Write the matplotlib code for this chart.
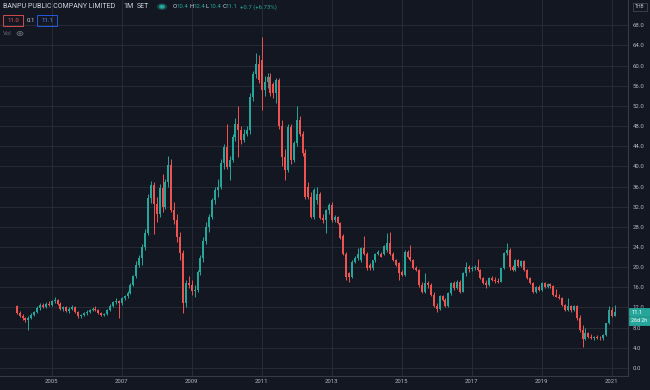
import matplotlib
matplotlib.use('Agg')
import matplotlib.pyplot as plt
from matplotlib.patches import Rectangle, Circle, Ellipse
import numpy as np

# Monthly candles, Jan 2004 .. Feb 2021 (BANPU, SET, THB)
opens = [
    12.3, 11.0, 10.4, 9.9, 9.5, 10.0, 10.6, 11.2, 11.9, 12.5, 12.1, 12.7,   # 2004
    12.4, 13.2, 13.5, 12.7, 11.8, 12.0, 11.4, 11.8, 12.1, 11.2, 10.3, 10.6,  # 2005
    11.0, 11.2, 11.5, 11.8, 11.5, 10.9, 10.5, 10.7, 11.5, 12.3, 13.0, 13.3,  # 2006
    12.9, 13.8, 14.2, 14.9, 16.5, 18.2, 20.5, 21.8, 24.0, 26.8, 33.7, 36.3,  # 2007
    32.5, 30.5, 35.8, 32.0, 36.8, 40.3, 31.4, 29.4, 26.0, 22.8, 12.8, 16.8,  # 2008
    16.5, 15.2, 15.5, 19.0, 21.8, 25.2, 28.0, 30.0, 33.3, 35.3, 36.0, 40.6,  # 2009
    43.9, 39.9, 41.3, 45.9, 48.5, 47.2, 45.2, 46.5, 47.2, 53.8, 58.4, 60.4,  # 2010
    61.1, 55.1, 56.8, 57.8, 56.4, 54.5, 57.1, 48.0, 41.9, 39.3, 47.9, 41.3,  # 2011
    44.6, 49.2, 46.5, 42.6, 36.0, 34.0, 30.0, 33.3, 34.6, 29.7, 29.4, 31.3,  # 2012
    32.3, 29.4, 29.9, 28.7, 26.1, 22.7, 18.8, 18.1, 21.1, 21.8, 21.4, 23.8,  # 2013
    22.7, 20.4, 19.8, 21.4, 22.7, 22.7, 22.7, 23.4, 24.7, 22.7, 21.4, 20.8,  # 2014
    19.1, 18.4, 23.1, 22.1, 21.4, 19.8, 19.4, 16.5, 15.1, 16.8, 16.5, 14.5,  # 2015
    12.2, 11.8, 14.2, 13.5, 12.2, 14.8, 16.8, 15.8, 17.1, 15.1, 18.8, 20.1,  # 2016
    19.6, 19.9, 20.1, 19.4, 17.8, 16.8, 16.5, 17.8, 17.5, 17.3, 17.1, 19.8,  # 2017
    22.8, 23.5, 20.0, 19.5, 21.4, 20.2, 21.2, 19.5, 17.8, 16.8, 15.0, 16.1,  # 2018
    15.5, 16.8, 16.1, 16.6, 16.2, 14.5, 14.1, 13.8, 12.5, 11.5, 12.2, 11.5,  # 2019
    12.2, 10.0, 7.6, 5.8, 6.9, 6.2, 6.0, 6.2, 6.0, 5.9, 6.5, 8.9,            # 2020
    11.6, 10.4,                                                              # 2021
]
highs = [
    12.5, 11.3, 10.8, 10.2, 10.4, 10.9, 11.4, 12.2, 12.8, 12.9, 13.0, 13.2,
    13.4, 14.0, 13.7, 13.0, 12.3, 12.3, 12.0, 12.4, 12.3, 11.4, 10.8, 11.2,
    11.5, 11.8, 12.1, 12.2, 11.7, 11.1, 11.0, 11.8, 12.6, 13.3, 13.8, 13.4,
    14.0, 14.5, 15.2, 16.8, 18.5, 21.2, 22.5, 24.5, 27.5, 34.5, 37.0, 36.8,
    34.0, 36.5, 38.5, 37.5, 42.0, 41.5, 33.0, 30.5, 27.0, 23.5, 17.5, 18.3,
    17.5, 16.5, 19.5, 22.5, 26.0, 29.0, 30.5, 33.8, 36.0, 37.5, 41.5, 44.5,
    48.5, 42.0, 46.5, 49.5, 51.9, 48.0, 47.5, 48.0, 54.5, 59.0, 62.4, 62.0,
    65.7, 58.0, 58.5, 58.5, 56.8, 57.5, 57.5, 49.2, 43.5, 48.5, 48.5, 45.0,
    51.9, 50.0, 47.0, 43.5, 36.8, 35.0, 35.8, 36.0, 35.0, 30.5, 31.5, 32.8,
    33.0, 30.3, 30.2, 29.0, 26.5, 23.0, 19.0, 21.5, 22.2, 23.8, 24.0, 26.1,
    23.0, 20.8, 21.5, 22.8, 23.5, 23.0, 24.3, 26.7, 26.9, 23.0, 21.6, 21.0,
    19.4, 23.4, 23.4, 24.4, 21.6, 20.3, 19.6, 17.1, 18.8, 17.2, 16.8, 15.1,
    12.8, 14.5, 14.5, 13.8, 15.0, 17.0, 17.2, 17.5, 17.4, 19.0, 21.1, 20.5,
    20.3, 20.5, 21.6, 19.6, 18.0, 17.5, 18.0, 18.3, 18.1, 17.8, 19.9, 23.0,
    24.8, 23.8, 20.5, 21.6, 21.7, 21.5, 21.4, 19.7, 18.1, 17.0, 16.3, 16.4,
    17.0, 17.1, 16.9, 16.9, 16.4, 15.6, 14.6, 14.0, 12.7, 13.8, 12.5, 12.5,
    12.4, 10.5, 8.5, 7.9, 7.2, 6.8, 6.4, 6.5, 6.3, 6.8, 9.0, 12.2,
    12.0, 12.4,
]
lows = [
    10.8, 10.2, 9.6, 9.2, 7.6, 9.7, 10.3, 11.0, 11.6, 11.9, 11.9, 12.2,
    12.2, 12.9, 12.5, 11.6, 11.4, 11.2, 11.0, 11.5, 11.0, 10.0, 9.9, 10.4,
    10.6, 11.0, 11.3, 11.3, 10.7, 10.3, 10.3, 10.6, 11.3, 12.1, 12.7, 9.9,
    12.5, 13.4, 13.9, 14.7, 16.2, 17.8, 20.0, 20.5, 23.5, 26.3, 32.8, 26.5,
    29.0, 30.0, 31.0, 31.5, 36.0, 31.0, 28.5, 25.0, 21.5, 10.9, 12.0, 15.8,
    14.5, 14.0, 15.0, 18.5, 21.0, 24.5, 27.0, 29.5, 32.5, 34.0, 35.5, 39.5,
    39.5, 37.3, 40.8, 45.0, 41.9, 44.5, 44.8, 46.0, 46.5, 53.0, 57.5, 56.5,
    51.2, 54.0, 55.5, 54.0, 53.5, 52.5, 47.5, 40.0, 37.3, 38.8, 40.5, 40.8,
    44.0, 46.0, 42.0, 33.5, 33.5, 29.8, 29.5, 32.5, 29.5, 28.8, 26.7, 30.5,
    29.0, 28.9, 28.5, 25.5, 22.5, 17.5, 17.1, 17.8, 20.8, 21.5, 21.0, 22.5,
    19.5, 19.5, 19.5, 21.0, 22.5, 22.0, 22.5, 23.0, 22.5, 21.2, 20.2, 17.5,
    18.2, 18.2, 21.8, 21.2, 19.6, 19.2, 16.0, 14.8, 14.9, 15.8, 14.3, 12.0,
    11.2, 11.6, 13.2, 12.0, 12.0, 14.5, 15.5, 15.6, 14.9, 15.0, 18.3, 19.1,
    19.2, 19.4, 19.2, 17.6, 16.6, 15.8, 16.3, 17.2, 16.9, 16.9, 17.0, 19.6,
    22.5, 19.5, 19.2, 19.3, 20.0, 20.0, 19.3, 17.6, 16.6, 14.8, 14.9, 15.3,
    15.3, 15.9, 15.8, 15.9, 14.3, 14.0, 13.6, 12.3, 11.3, 11.3, 11.2, 11.3,
    9.5, 7.2, 4.2, 5.6, 5.9, 5.7, 5.6, 5.8, 5.5, 5.6, 6.4, 8.7,
    10.2, 10.4,
]
closes = [
    11.0, 10.4, 9.9, 9.5, 10.0, 10.6, 11.2, 11.9, 12.5, 12.1, 12.7, 12.4,
    13.2, 13.5, 12.7, 11.8, 12.0, 11.4, 11.8, 12.1, 11.2, 10.3, 10.6, 11.0,
    11.2, 11.5, 11.8, 11.5, 10.9, 10.5, 10.7, 11.5, 12.3, 13.0, 13.3, 12.9,
    13.8, 14.2, 14.9, 16.5, 18.2, 20.5, 21.8, 24.0, 26.8, 33.7, 36.3, 32.5,
    30.5, 35.8, 32.0, 36.8, 40.3, 31.4, 29.4, 26.0, 22.8, 12.8, 16.8, 16.5,
    15.2, 15.5, 19.0, 21.8, 25.2, 28.0, 30.0, 33.3, 35.3, 36.0, 40.6, 43.9,
    39.9, 41.3, 45.9, 48.5, 47.2, 45.2, 46.5, 47.2, 53.8, 58.4, 60.4, 57.1,
    55.1, 56.8, 57.8, 54.5, 54.5, 57.1, 48.0, 41.9, 39.3, 47.9, 41.3, 44.6,
    49.2, 46.5, 42.6, 34.0, 34.0, 30.0, 35.3, 34.6, 29.7, 29.4, 31.3, 32.3,
    29.4, 29.9, 28.7, 25.7, 22.7, 18.1, 18.1, 21.1, 21.8, 22.7, 23.8, 22.7,
    19.8, 19.8, 21.4, 22.7, 23.1, 22.1, 24.1, 24.7, 22.7, 21.4, 20.4, 18.8,
    18.4, 23.1, 22.1, 21.4, 19.8, 19.4, 16.5, 15.1, 16.8, 16.5, 14.5, 12.2,
    11.8, 14.2, 13.5, 12.2, 14.8, 16.8, 15.8, 17.1, 15.1, 18.8, 20.1, 19.6,
    19.9, 20.1, 19.4, 17.8, 16.8, 16.5, 17.8, 17.5, 17.3, 17.1, 19.8, 22.8,
    23.5, 20.0, 19.5, 21.4, 20.2, 21.2, 19.5, 17.8, 16.8, 15.0, 16.1, 15.5,
    16.8, 16.1, 16.6, 16.2, 14.5, 14.1, 13.8, 12.5, 11.5, 12.2, 11.5, 12.2,
    10.0, 7.6, 5.8, 6.9, 6.2, 6.0, 6.2, 6.0, 5.9, 6.5, 8.9, 11.6,
    10.4, 11.1,
]
start_year = 2004
year_labels = [2005, 2007, 2009, 2011, 2013, 2015, 2017, 2019, 2021]
price_ticks = list(range(0, 69, 4))

BG = '#131722'
GRID = '#2a2e39'
UP = '#26a69a'
DOWN = '#ef5350'
TXT = '#b2b5be'
HEAD = '#d1d4dc'
W, H = 650, 390
plt.rcParams['font.family'] = ['Roboto', 'DejaVu Sans']

o = np.array(opens)
h = np.array(highs)
l = np.array(lows)
c = np.array(closes)
idx = np.arange(len(c))
col = np.where(c >= o, UP, DOWN)

fig = plt.figure(figsize=(W / 100, H / 100), dpi=100, facecolor=BG)
ax = fig.add_axes([0, 14 / H, 628 / W, 376 / H], facecolor=BG)

ax.vlines(idx, l, h, colors=col, linewidth=0.7, zorder=2)
body = np.maximum(np.abs(c - o), 0.12)
ax.bar(idx, body, bottom=np.minimum(o, c), width=0.64, color=col,
       linewidth=0, zorder=3)

ax.set_xlim(-5.72, 209.6)
ax.set_ylim(-1.59, 73.0)
ax.set_yticks(price_ticks)
ax.set_yticklabels([f'{v:.1f}' for v in price_ticks])
ax.set_xticks([12 * (y - start_year) for y in year_labels])
ax.set_xticklabels([str(y) for y in year_labels])
ax.yaxis.tick_right()
ax.tick_params(axis='both', length=0, colors=TXT, labelsize=4.3)
ax.tick_params(axis='y', pad=3.5)
ax.tick_params(axis='x', pad=2.5)
ax.grid(True, color=GRID, linewidth=0.6, zorder=0)
for s in ('top', 'left'):
    ax.spines[s].set_visible(False)
for s in ('right', 'bottom'):
    ax.spines[s].set_color('#363a45')
    ax.spines[s].set_linewidth(0.8)


def px(x, y):
    return x / W, 1 - y / H


def box(x0, y0, w, hh, ec, fc='none', lw=0.6):
    fig.add_artist(Rectangle(px(x0, y0 + hh), w / W, hh / H, transform=fig.transFigure,
                             edgecolor=ec, facecolor=fc, linewidth=lw))


# header
fig.text(*px(3.3, 7), 'BANPU PUBLIC COMPANY LIMITED', color=HEAD, fontsize=5.0, va='center')
fig.text(*px(123, 7), '1M', color=HEAD, fontsize=5.0, va='center')
fig.text(*px(137, 7), 'SET', color=HEAD, fontsize=5.0, va='center')
fig.add_artist(Circle(px(162, 6.7), 4.5 / W, transform=fig.transFigure, color=UP, alpha=0.25))
fig.add_artist(Circle(px(162, 6.7), 2.2 / W, transform=fig.transFigure, color=UP))
xpos = 173
for lab, val in [('O', '10.4'), ('H', '12.4'), ('L', '10.4'), ('C', '11.1')]:
    fig.text(*px(xpos, 7), lab, color=HEAD, fontsize=4.3, va='center')
    fig.text(*px(xpos + 3.6, 7), val, color=UP, fontsize=4.3, va='center')
    xpos += 16.4
fig.text(*px(xpos + 1, 7), '+0.7 (+6.73%)', color=UP, fontsize=4.3, va='center')

box(3, 15, 20, 11, DOWN)
fig.text(*px(13, 20.5), '11.0', color=DOWN, fontsize=4.3, va='center', ha='center')
fig.text(*px(27, 20.5), '0.1', color=HEAD, fontsize=4.3, va='center')
box(37, 15, 20, 11, '#2962ff')
fig.text(*px(47, 20.5), '11.1', color='#5b8cff', fontsize=4.3, va='center', ha='center')

fig.text(*px(3, 33.5), 'Vol', color='#6a6d78', fontsize=4.3, va='center')
fig.add_artist(Ellipse(px(20, 33.5), 6 / W, 4 / H, transform=fig.transFigure,
                       edgecolor='#6a6d78', facecolor='none', linewidth=0.6))
fig.add_artist(Circle(px(20, 33.5), 1.1 / W, transform=fig.transFigure,
                      edgecolor='#6a6d78', facecolor='none', linewidth=0.6))

# currency tag
box(633, 3, 14, 8, '#434651', BG)
fig.text(*px(640, 7), 'THB', color=TXT, fontsize=3.6, va='center', ha='center')

# last price tags
box(629, 308, 21, 8, UP, UP)
fig.text(*px(632, 312), '11.1', color='white', fontsize=4.2, va='center')
box(629, 317, 21, 8, UP, UP)
fig.text(*px(631, 321), '26d 2h', color='white', fontsize=3.8, va='center')

fig.savefig('out.png', dpi=100, facecolor=BG)
